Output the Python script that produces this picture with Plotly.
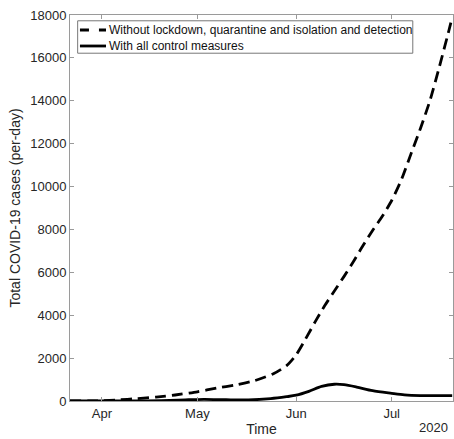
import plotly.graph_objects as go

dates_no_control = ["2020-03-22", "2020-04-01", "2020-04-06", "2020-04-12", "2020-04-18", "2020-04-24",
                    "2020-05-01", "2020-05-07", "2020-05-13", "2020-05-19", "2020-05-25", "2020-05-29",
                    "2020-06-01", "2020-06-04", "2020-06-07", "2020-06-10", "2020-06-13", "2020-06-16",
                    "2020-06-19", "2020-06-22", "2020-06-25", "2020-06-28", "2020-07-01", "2020-07-04",
                    "2020-07-07", "2020-07-10", "2020-07-13", "2020-07-16", "2020-07-19", "2020-07-20"]
cases_no_control = [0, 10, 50, 110, 180, 280,
                    430, 600, 750, 950, 1280, 1650,
                    2150, 2900, 3700, 4450, 5130, 5800,
                    6500, 7250, 7950, 8600, 9350, 10300,
                    11500, 12700, 14000, 15600, 17300, 17900]

dates_control = ["2020-03-22", "2020-04-01", "2020-04-15", "2020-04-25", "2020-05-03", "2020-05-10",
                 "2020-05-17", "2020-05-24", "2020-05-29", "2020-06-01", "2020-06-05", "2020-06-09",
                 "2020-06-13", "2020-06-16", "2020-06-20", "2020-06-25", "2020-07-01", "2020-07-05",
                 "2020-07-10", "2020-07-15", "2020-07-20"]
cases_control = [0, 0, 10, 40, 80, 60,
                 50, 110, 200, 270, 450, 680,
                 780, 760, 650, 480, 360, 290,
                 255, 250, 255]

series_names = ["Without lockdown, quarantine and isolation and detection",
                "With all control measures"]

tick_dates = ["2020-04-01", "2020-05-01", "2020-06-01", "2020-07-01"]
tick_labels = ["Apr", "May", "Jun", "Jul"]
y_ticks = [0, 2000, 4000, 6000, 8000, 10000, 12000, 14000, 16000, 18000]

font_family = "Liberation Sans, Arial, sans-serif"
dash_style = "11px,6px"

fig = go.Figure()
fig.add_trace(go.Scatter(
    x=dates_no_control, y=cases_no_control, mode="lines",
    name=series_names[0], showlegend=False,
    line=dict(color="black", width=2.8, dash=dash_style, shape="spline", smoothing=0.6),
))
fig.add_trace(go.Scatter(
    x=dates_control, y=cases_control, mode="lines",
    name=series_names[1], showlegend=False,
    line=dict(color="black", width=2.8, shape="spline", smoothing=0.8),
))

axis_color = "#9a9a9a"
fig.update_layout(
    width=454, height=439,
    margin=dict(l=70, r=1, t=15, b=38),
    paper_bgcolor="white", plot_bgcolor="white",
    font=dict(family=font_family, size=13, color="#262626"),
    showlegend=False,
    xaxis=dict(
        range=["2020-03-22", "2020-07-20 06:00"],
        tickvals=tick_dates, ticktext=tick_labels,
        ticks="inside", ticklen=4, tickcolor=axis_color,
        showline=True, linecolor=axis_color, linewidth=1, mirror="ticks",
        showgrid=False, zeroline=False,
        title=dict(text="Time", font=dict(size=14), standoff=4),
        tickfont=dict(size=13),
    ),
    yaxis=dict(
        range=[0, 18000],
        tickvals=y_ticks, ticktext=[str(v) for v in y_ticks],
        ticks="inside", ticklen=4, tickcolor=axis_color,
        showline=True, linecolor=axis_color, linewidth=1, mirror="ticks",
        showgrid=False, zeroline=False,
        title=dict(text="Total COVID-19 cases (per-day)", font=dict(size=14), standoff=6),
        tickfont=dict(size=13),
    ),
)

# Custom MATLAB-style compact legend
fig.add_shape(type="rect", xref="paper", yref="paper", x0=0.020, x1=0.895, y0=0.901, y1=0.985,
              line=dict(color="#777", width=1), fillcolor="white", layer="above")
legend_rows = [0.9611, 0.9197]
fig.add_shape(type="line", xref="paper", yref="paper", x0=0.026, x1=0.094, y0=legend_rows[0], y1=legend_rows[0],
              line=dict(color="black", width=2.8, dash="9px,10px"), layer="above")
fig.add_shape(type="line", xref="paper", yref="paper", x0=0.026, x1=0.094, y0=legend_rows[1], y1=legend_rows[1],
              line=dict(color="black", width=2.8), layer="above")
for name, yrow in zip(series_names, legend_rows):
    fig.add_annotation(text=name, xref="paper", yref="paper", x=0.0955, y=yrow,
                       xanchor="left", yanchor="middle", showarrow=False,
                       font=dict(size=12, color="#111"))

fig.add_annotation(
    text="2020", xref="paper", yref="paper", x=1.0, y=0, xanchor="right", yanchor="top",
    yshift=-17, xshift=-3, showarrow=False, font=dict(size=13, color="#262626"),
)
fig.write_html("out.html")
